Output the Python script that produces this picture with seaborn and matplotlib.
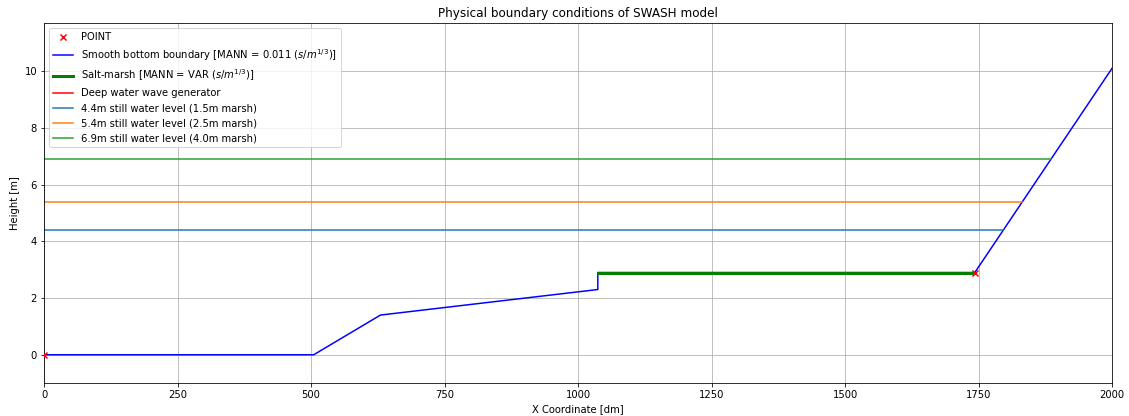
import matplotlib
matplotlib.use("Agg")
import matplotlib.pyplot as plt
import seaborn as sns
import numpy as np

# Bottom profile of the SWASH domain
bottom_x = [0, 505, 630, 1037, 1037, 1743, 2000]
bottom_h = [0.0, 0.0, 1.4, 2.3, 2.9, 2.9, 10.1]

# Salt-marsh stretch
marsh_x = [1037, 1743]
marsh_h = [2.9, 2.9]

# Marked points
point_x = [0, 1743]
point_h = [0.0, 2.9]

# Deep water wave generator (at the offshore boundary)
gen_x = [0, 0]
gen_h = [0.0, 0.0]

# Still water levels
swl_levels = [4.4, 5.4, 6.9]
swl_labels = ["4.4m still water level (1.5m marsh)",
              "5.4m still water level (2.5m marsh)",
              "6.9m still water level (4.0m marsh)"]
swl_colors = ["#1f77b4", "#ff7f0e", "#2ca02c"]


def shore_crossing(level):
    # x where the landward slope reaches the given level
    x0, h0 = bottom_x[-2], bottom_h[-2]
    x1, h1 = bottom_x[-1], bottom_h[-1]
    return x0 + (level - h0) / (h1 - h0) * (x1 - x0)


DPI = 72
fig, ax = plt.subplots(figsize=(1129 / DPI, 416 / DPI), dpi=DPI)
fig.subplots_adjust(left=0.039, right=0.985, top=0.945, bottom=0.079)

ax.scatter(point_x, point_h, marker="x", color="red", s=36, linewidths=1.5,
           label="POINT", zorder=5)
sns.lineplot(x=bottom_x, y=bottom_h, sort=False, estimator=None, color="blue",
             lw=1.5, ax=ax, label=r"Smooth bottom boundary [MANN = 0.011 ($s/m^{1/3}$)]")
sns.lineplot(x=marsh_x, y=marsh_h, sort=False, estimator=None, color="green",
             lw=3, ax=ax, label=r"Salt-marsh [MANN = VAR ($s/m^{1/3}$)]")
sns.lineplot(x=gen_x, y=gen_h, sort=False, estimator=None, color="red",
             lw=1.5, ax=ax, label="Deep water wave generator")
for lvl, lab, col in zip(swl_levels, swl_labels, swl_colors):
    xe = shore_crossing(lvl)
    sns.lineplot(x=[0, xe], y=[lvl, lvl], sort=False, estimator=None,
                 color=col, lw=1.5, ax=ax, label=lab)

ax.set_xlim(0, 2000)
ax.set_ylim(-1, 11.7)
ax.grid(True, color="#b0b0b0", lw=0.8)
ax.set_axisbelow(True)
ax.set_xlabel("X Coordinate [dm]")
ax.set_ylabel("Height [m]")
ax.set_title("Physical boundary conditions of SWASH model")
ax.legend(loc="upper left")

fig.savefig("out.png", dpi=DPI)
